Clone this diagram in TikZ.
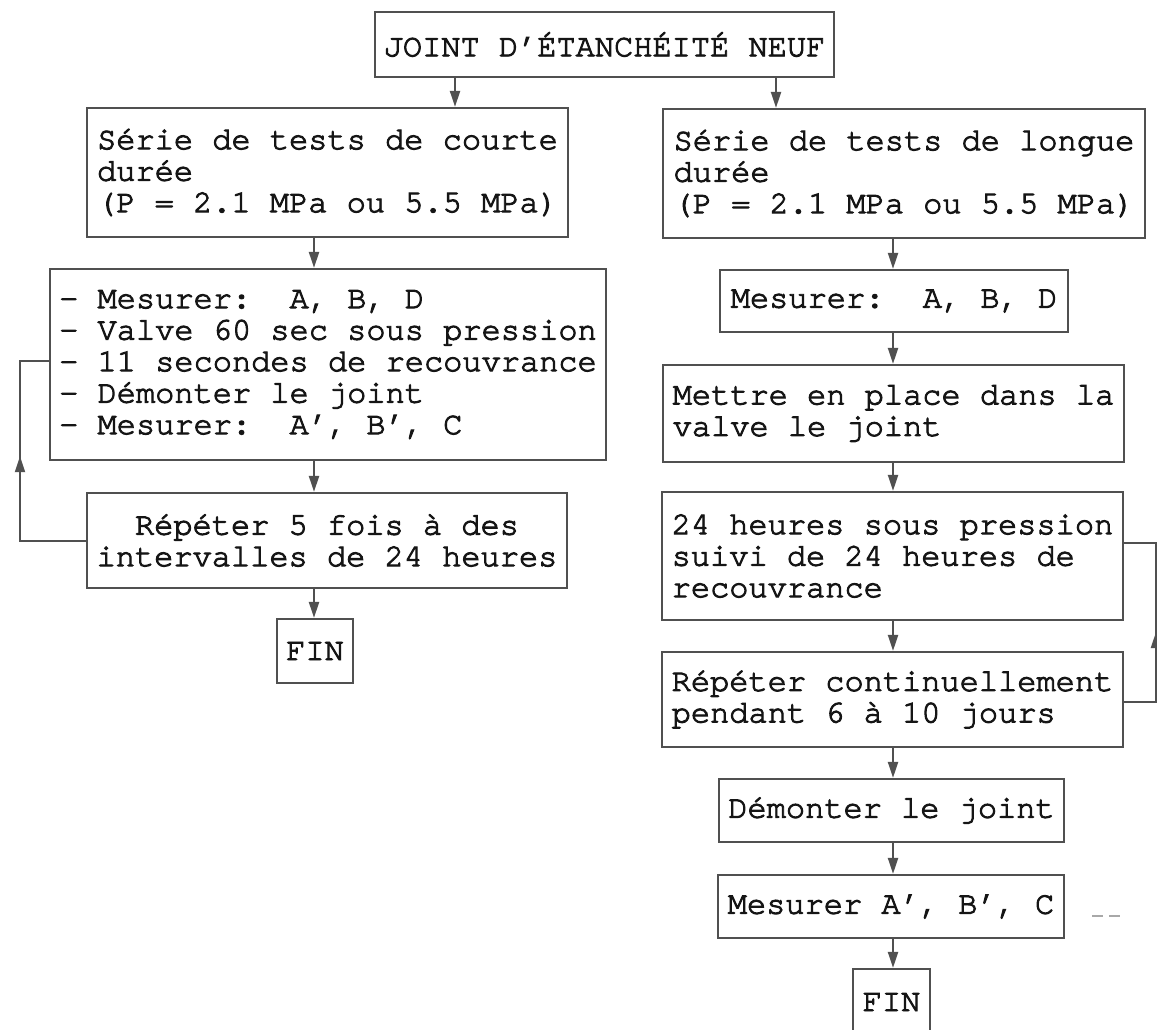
\documentclass[tikz,border=0pt]{standalone}
\usepackage{fontspec}
\usetikzlibrary{arrows.meta,calc}
\newfontfamily\typefont[FakeBold=3]{texgyrecursor-regular.otf}
\definecolor{ink}{HTML}{151515}
\definecolor{rule}{HTML}{505050}
\tikzset{
  box/.style={draw=rule, line width=2.2pt, rectangle, inner sep=0pt, align=left,
    text=ink, font=\typefont\fontsize{32}{31.5}\selectfont\frenchspacing},
  wire/.style={draw=rule, line width=2pt},
  arr/.style={wire, -{Triangle[length=16pt,width=10pt]}},
}
\begin{document}
\begin{tikzpicture}[x=1pt,y=-1pt]
\fill[white] (0,0) rectangle (1157,1030);
\useasboundingbox (0,0) rectangle (1157,1030);
\clip (0,0) rectangle (1157,1030);

% start
\node[box, minimum width=459, minimum height=65] (top) at (604.5,44.5) {JOINT D’ÉTANCHÉITÉ NEUF};

% short-duration branch
\node[box, minimum width=481, minimum height=129] (l1) at (327.5,172.5)
  {Série de tests de courte\\durée\\(P = 2.1 MPa ou 5.5 MPa)};
\node[box, minimum width=556, minimum height=191] (l2) at (328,364.5)
  {- Mesurer:\ \ A, B, D\\- Valve 60 sec sous pression\\- 11 secondes de recouvrance\\- Démonter le joint\\- Mesurer:\ \ A’, B’, C};
\node[box, align=center, minimum width=480, minimum height=95] (l3) at (327,540.5)
  {Répéter 5 fois à des\\intervalles de 24 heures};
\node[box, minimum width=76, minimum height=64] (lf) at (315,651) {FIN};

% long-duration branch
\node[box, minimum width=482, minimum height=129] (r1) at (904,173.5)
  {Série de tests de longue\\durée\\(P = 2.1 MPa ou 5.5 MPa)};
\node[box, minimum width=348, minimum height=62] (r2) at (894,301) {Mesurer:\ \ A, B, D};
\node[box, minimum width=461, minimum height=97] (r3) at (893.5,413.5)
  {Mettre en place dans la\\valve le joint};
\node[box, minimum width=461, minimum height=128] (r4) at (892.5,556)
  {24 heures sous pression\\suivi de 24 heures de\\recouvrance};
\node[box, minimum width=461, minimum height=95] (r5) at (892.5,699.5)
  {Répéter continuellement\\pendant 6 à 10 jours};
\node[box, minimum width=345, minimum height=63] (r6) at (891.5,810.5) {Démonter le joint};
\node[box, minimum width=346, minimum height=63] (r7) at (891,906.5) {Mesurer A’, B’, C};
\node[box, minimum width=77, minimum height=66] (rf) at (891.5,1002) {FIN};

% connector columns
\coordinate (tl) at (455,0);
\coordinate (tr) at (776,0);
\coordinate (cl) at (314,0);
\coordinate (cr) at (893,0);

\draw[arr] (top.south -| tl) -- (l1.north -| tl);
\draw[arr] (top.south -| tr) -- (r1.north -| tr);

\draw[arr] (l1.south -| cl) -- (l2.north -| cl);
\draw[arr] (l2.south -| cl) -- (l3.north -| cl);
\draw[arr] (l3.south -| cl) -- (lf.north -| cl);

\draw[arr] (r1.south -| cr) -- (r2.north -| cr);
\draw[arr] (r2.south -| cr) -- (r3.north -| cr);
\draw[arr] (r3.south -| cr) -- (r4.north -| cr);
\draw[arr] (r4.south -| cr) -- (r5.north -| cr);
\draw[arr] (r5.south -| cr) -- (r6.north -| cr);
\draw[arr] (r6.south -| cr) -- (r7.north -| cr);
\draw[arr] (r7.south -| cr) -- (rf.north -| cr);

% repeat loop, short series
\coordinate (lb) at (20,540.5);
\coordinate (lt) at (20,361);
\draw[wire] (l3.west) -- (lb) -- (lt) -- (lt -| l2.west);
\draw[arr] (lb) -- ($(lb)!0.47!(lt)$);

% repeat loop, long series
\coordinate (rb) at (1156,702);
\coordinate (rt) at (1156,543);
\draw[wire] (rb -| r5.east) -- (rb) -- (rt) -- (rt -| r4.east);
\draw[arr] (rb) -- ($(rb)!0.44!(rt)$);

% faint mark beside the last measurement
\draw[rule!50, line width=1.2pt, dash pattern=on 11pt off 6pt] (1092,916) -- (1120,916);
\end{tikzpicture}
\end{document}
